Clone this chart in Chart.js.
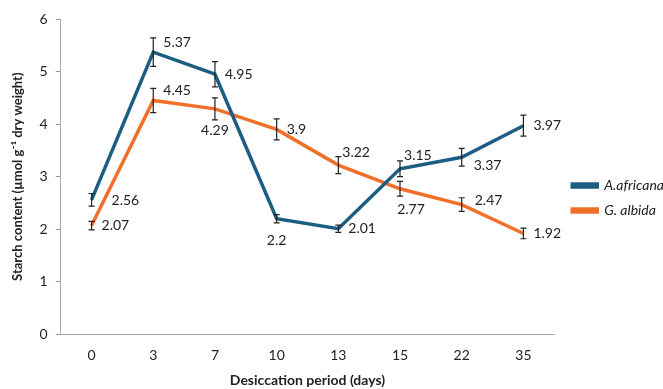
<!DOCTYPE html>
<html>
<head>
<meta charset="utf-8">
<script src="https://cdn.jsdelivr.net/npm/chart.js@4"></script>
<style>
  html, body { margin: 0; padding: 0; background: #fff; }
  #wrap { width: 663px; height: 389px; }
</style>
</head>
<body>
<div id="wrap"><canvas id="chart"></canvas></div>
<script>
// Data
const days = ['0', '3', '7', '10', '13', '15', '22', '35'];
const africana = [2.56, 5.37, 4.95, 2.2, 2.01, 3.15, 3.37, 3.97];
const africanaErr = [0.12, 0.27, 0.24, 0.08, 0.07, 0.15, 0.17, 0.2];
const albida = [2.07, 4.45, 4.29, 3.9, 3.22, 2.77, 2.47, 1.92];
const albidaErr = [0.08, 0.23, 0.21, 0.2, 0.16, 0.14, 0.13, 0.1];

// where each value label sits relative to its point
const africanaLabelPos = ['farRight', 'upRight', 'right', 'below', 'right', 'above', 'downRight', 'right'];
const albidaLabelPos = ['right', 'upRight', 'below', 'right', 'above', 'belowRight', 'slightUp', 'right'];

const BLUE = '#1c5d82';
const ORANGE = '#f0702a';
const FONT = 'Lato, "Open Sans", sans-serif';

const placements = {
  right:      { dx: 10, dy: 0,   align: 'left' },
  farRight:   { dx: 20, dy: 1,   align: 'left' },
  upRight:    { dx: 10, dy: -10, align: 'left' },
  slightUp:   { dx: 13, dy: -4,  align: 'left' },
  above:      { dx: 4,  dy: -13, align: 'left' },
  downRight:  { dx: 12, dy: 8,   align: 'left' },
  below:      { dx: 0,  dy: 22,  align: 'center' },
  belowRight: { dx: 11, dy: 21,  align: 'center' },
};

// error bars (no built-in support)
const errorBars = {
  id: 'errorBars',
  afterDatasetsDraw(chart) {
    const ctx = chart.ctx;
    const y = chart.scales.y;
    ctx.save();
    ctx.strokeStyle = '#222';
    ctx.lineWidth = 1.2;
    chart.data.datasets.forEach((ds, i) => {
      const meta = chart.getDatasetMeta(i);
      meta.data.forEach((pt, j) => {
        const e = ds.errors[j];
        const top = y.getPixelForValue(ds.data[j] + e);
        const bot = y.getPixelForValue(ds.data[j] - e);
        ctx.beginPath();
        ctx.moveTo(pt.x, top); ctx.lineTo(pt.x, bot);
        ctx.moveTo(pt.x - 3, top); ctx.lineTo(pt.x + 3, top);
        ctx.moveTo(pt.x - 3, bot); ctx.lineTo(pt.x + 3, bot);
        ctx.stroke();
      });
    });
    ctx.restore();
  }
};

// value labels next to points
const valueLabels = {
  id: 'valueLabels',
  afterDatasetsDraw(chart) {
    const ctx = chart.ctx;
    ctx.save();
    ctx.font = '14px ' + FONT;
    ctx.fillStyle = '#222';
    ctx.textBaseline = 'middle';
    chart.data.datasets.forEach((ds, i) => {
      const meta = chart.getDatasetMeta(i);
      meta.data.forEach((pt, j) => {
        const p = placements[ds.labelPos[j]];
        ctx.textAlign = p.align;
        ctx.fillText(String(ds.data[j]), pt.x + p.dx, pt.y + p.dy);
      });
    });
    ctx.restore();
  }
};

// nudge the legend a little further right / up, like the original
const legendNudge = {
  id: 'legendNudge',
  afterLayout(chart) {
    const lg = chart.legend;
    lg.left += 7; lg.right += 7;
    lg.top -= 6; lg.bottom -= 6;
  }
};

new Chart(document.getElementById('chart'), {
  type: 'line',
  data: {
    labels: days,
    datasets: [
      {
        label: 'A.africana',
        data: africana,
        errors: africanaErr,
        labelPos: africanaLabelPos,
        borderColor: BLUE,
        backgroundColor: BLUE,
        borderWidth: 3.5,
        pointRadius: 0,
        tension: 0,
      },
      {
        label: 'G. albida',
        data: albida,
        errors: albidaErr,
        labelPos: albidaLabelPos,
        borderColor: ORANGE,
        backgroundColor: ORANGE,
        borderWidth: 3.5,
        pointRadius: 0,
        tension: 0,
      },
    ],
  },
  options: {
    responsive: true,
    maintainAspectRatio: false,
    animation: false,
    layout: { padding: { top: 19, right: -4, bottom: 0, left: 6 } },
    scales: {
      x: {
        offset: true,
        grid: { display: false, offset: true, drawOnChartArea: false, drawTicks: true, tickLength: 5, color: '#999' },
        border: { color: '#aaa', width: 1 },
        ticks: { color: '#222', font: { family: FONT, size: 14 }, padding: 8 },
        title: { display: true, text: 'Desiccation period (days)', color: '#222', font: { family: FONT, size: 14, weight: 'bold' }, padding: { top: 0, bottom: 0 } },
      },
      y: {
        min: 0, max: 6,
        ticks: { stepSize: 1, color: '#222', font: { family: FONT, size: 14 }, padding: 8 },
        grid: { drawOnChartArea: false, drawTicks: true, tickLength: 5, color: '#999' },
        border: { color: '#aaa', width: 1 },
        title: { display: true, text: 'Starch content (µmol g\u207B\u00B9 dry weight)', color: '#222', font: { family: FONT, size: 13, weight: 'bold' }, padding: { bottom: 6 } },
      },
    },
    plugins: {
      legend: {
        position: 'right',
        labels: {
          boxWidth: 25,
          boxHeight: 3,
          color: '#222',
          font: { family: FONT, size: 14, style: 'italic' },
          padding: 11,
        },
      },
      tooltip: { enabled: false },
    },
  },
  plugins: [errorBars, valueLabels, legendNudge],
});
</script>
</body>
</html>
